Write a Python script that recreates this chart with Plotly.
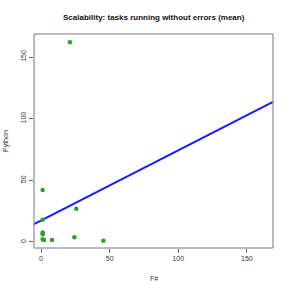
import plotly.graph_objects as go

# Data
fsharp = [1.2, 1.2, 1.2, 1.2, 1.2, 2.2, 8.0, 24.3, 25.7, 45.4, 21.1]
python = [42.2, 18.1, 7.6, 6.2, 2.2, 1.6, 1.6, 3.8, 27.0, 1.0, 162.0]
x_ticks = [0, 50, 100, 150]
y_ticks = [0, 50, 100, 150]
# regression line (abline of lm)
intercept = 17.3
slope = 0.57

x_range = [-5.1, 169.0]
y_range = [-4.9, 168.7]

fig = go.Figure()
line_x = x_range
line_y = [intercept + slope * v for v in line_x]
fig.add_trace(go.Scatter(x=line_x, y=line_y, mode="lines",
                         line=dict(color="#1a1aff", width=2), hoverinfo="skip"))
fig.add_trace(go.Scatter(x=fsharp, y=python, mode="markers",
                         marker=dict(color="#2e9e2e", size=4.5, line=dict(width=0))))

axis_common = dict(showgrid=False, zeroline=False, showline=False,
                   ticks="outside", ticklen=4, tickwidth=1, tickcolor="#666",
                   tickfont=dict(family="Liberation Sans, Arial", size=7, color="#333"))
fig.update_xaxes(range=x_range, tickvals=x_ticks, ticktext=[str(t) for t in x_ticks],
                 **axis_common)
fig.update_yaxes(range=y_range, tickvals=y_ticks, ticktext=[str(t) for t in y_ticks],
                 tickangle=-90, **axis_common)

fig.update_layout(
    width=291, height=291,
    margin=dict(l=34, r=18, t=34, b=43),
    plot_bgcolor="white", paper_bgcolor="white",
    showlegend=False,
    shapes=[dict(type="rect", xref="paper", yref="paper", x0=0, y0=0, x1=1, y1=1,
                 line=dict(color="#777", width=1), layer="above")],
    annotations=[
        dict(text="<b>Scalability: tasks running without errors (mean)</b>",
             xref="paper", yref="paper", x=0.5, y=1, yshift=17, xanchor="center",
             yanchor="middle", showarrow=False,
             font=dict(family="Liberation Sans, Arial", size=8, color="#111")),
        dict(text="F#", xref="paper", yref="paper", x=0.5, y=0, yshift=-30,
             xanchor="center", yanchor="middle", showarrow=False,
             font=dict(family="Liberation Sans, Arial", size=7, color="#333")),
        dict(text="Python", xref="paper", yref="paper", x=0, xshift=-28, y=0.5,
             xanchor="center", yanchor="middle", textangle=-90, showarrow=False,
             font=dict(family="Liberation Sans, Arial", size=7, color="#333")),
    ],
)

fig.write_html("out.html", config={"displayModeBar": False},
               post_script="document.body.style.margin='0';")
